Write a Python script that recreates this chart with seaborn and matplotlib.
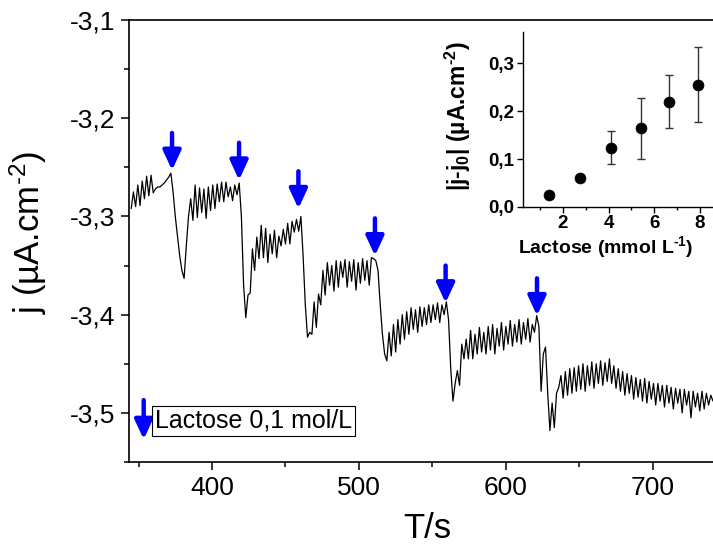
import numpy as np
import pandas as pd
import matplotlib
matplotlib.use("Agg")
import matplotlib.pyplot as plt
import seaborn as sns
from matplotlib.ticker import MultipleLocator, FuncFormatter

# ---------------- data ----------------
T_START = 345.0   # s, first sample
T_STEP = 1.5      # s, sampling interval
current = [
    # before 1st addition
    -3.292, -3.275, -3.290, -3.268, -3.289, -3.264, -3.282, -3.259, -3.279, -3.258,
    -3.276, -3.272, -3.270, -3.270, -3.268, -3.266, -3.263, -3.260, -3.256, -3.275,
    # 1st step
    -3.300, -3.320, -3.340, -3.355, -3.363, -3.330, -3.300, -3.282, -3.304, -3.268,
    -3.301, -3.271, -3.296, -3.272, -3.302, -3.270, -3.294, -3.268, -3.292, -3.267,
    -3.285, -3.265, -3.285, -3.265, -3.280, -3.270, -3.284, -3.268, -3.278, -3.266,
    # 2nd step
    -3.300, -3.370, -3.403, -3.380, -3.378, -3.333, -3.355, -3.321, -3.343, -3.309,
    -3.342, -3.312, -3.347, -3.318, -3.338, -3.314, -3.342, -3.320, -3.330, -3.313,
    -3.328, -3.307, -3.328, -3.305, -3.316, -3.303, -3.315, -3.300,
    # 3rd step
    -3.340, -3.390, -3.423, -3.418, -3.420, -3.387, -3.413, -3.379, -3.390, -3.355,
    -3.380, -3.347, -3.370, -3.350, -3.376, -3.345, -3.372, -3.346, -3.362, -3.344,
    -3.372, -3.346, -3.366, -3.344, -3.375, -3.347, -3.368, -3.343, -3.365, -3.345,
    -3.370, -3.342, -3.343,
    # 4th step
    -3.345, -3.355, -3.390, -3.420, -3.440, -3.447, -3.418, -3.442, -3.410, -3.438,
    -3.405, -3.430, -3.400, -3.425, -3.397, -3.420, -3.393, -3.415, -3.395, -3.418,
    -3.392, -3.412, -3.393, -3.410, -3.390, -3.408, -3.390, -3.405, -3.388, -3.408,
    -3.390, -3.400, -3.387,
    # 5th step
    -3.405, -3.455, -3.488, -3.470, -3.457, -3.472, -3.430, -3.445, -3.425, -3.445,
    -3.416, -3.445, -3.420, -3.440, -3.413, -3.438, -3.418, -3.440, -3.412, -3.436,
    -3.410, -3.440, -3.414, -3.432, -3.408, -3.436, -3.412, -3.430, -3.406, -3.432,
    -3.410, -3.428, -3.405, -3.430, -3.408, -3.425, -3.404, -3.428, -3.410, -3.418,
    -3.401,
    # 6th step
    -3.412, -3.478, -3.440, -3.433, -3.480, -3.518, -3.490, -3.515, -3.480, -3.474,
    -3.462, -3.485, -3.458, -3.482, -3.455, -3.480, -3.454, -3.478, -3.452, -3.476,
    -3.450, -3.478, -3.452, -3.472, -3.448, -3.475, -3.450, -3.470, -3.447, -3.472,
    -3.449, -3.468, -3.445, -3.470, -3.452, -3.475, -3.455, -3.478, -3.458, -3.482,
    -3.460, -3.480, -3.462, -3.486, -3.464, -3.484, -3.466, -3.488, -3.465, -3.490,
    -3.468, -3.486, -3.470, -3.492, -3.470, -3.488, -3.472, -3.494, -3.472, -3.490,
    -3.474, -3.496, -3.475, -3.490, -3.476, -3.500, -3.476, -3.492, -3.478, -3.505,
    -3.478, -3.494, -3.480, -3.498, -3.478, -3.496, -3.480, -3.492, -3.482, -3.488,
]

# lactose additions (arrow positions)
add_time = [372.8, 418.4, 458.8, 510.9, 559.0, 621.2]
add_tip = [-3.253, -3.263, -3.292, -3.340, -3.388, -3.401]
ARROW_LEN = 0.038

# inset: calibration
conc = [1.4, 2.75, 4.1, 5.4, 6.65, 7.9]
dj = [0.026, 0.060, 0.124, 0.164, 0.220, 0.255]
dj_err = [0.004, 0.005, 0.034, 0.064, 0.056, 0.078]

main_xticks = [400, 500, 600, 700]
main_yticks = [-3.5, -3.4, -3.3, -3.2, -3.1]
inset_xticks = [2, 4, 6, 8]
inset_yticks = [0.0, 0.1, 0.2, 0.3]

legend_text = "Lactose 0,1 mol/L"

# ---------------- style ----------------
sns.set_theme(style="ticks")
plt.rcParams["font.family"] = ["Liberation Sans", "DejaVu Sans"]
plt.rcParams["mathtext.fontset"] = "custom"
plt.rcParams["mathtext.rm"] = "Liberation Sans"
plt.rcParams["mathtext.it"] = "Liberation Sans:italic"
plt.rcParams["mathtext.bf"] = "Liberation Sans:bold"
for k in ["text.color", "axes.labelcolor", "xtick.color", "ytick.color",
          "axes.edgecolor"]:
    plt.rcParams[k] = "black"

comma = FuncFormatter(lambda v, p: f"{v:.1f}".replace(".", ","))

df = pd.DataFrame({"t": T_START + T_STEP * np.arange(len(current)), "j": current})
dfi = pd.DataFrame({"c": conc, "dj": dj, "err": dj_err})

fig = plt.figure(figsize=(7.13, 5.45), dpi=100)
ax = fig.add_axes([129 / 713, 83 / 545, 584 / 713, 442 / 545])

sns.lineplot(data=df, x="t", y="j", ax=ax, color="black", lw=0.9,
             estimator=None, sort=False)

ax.set_xlim(343.5, 741)
ax.set_ylim(-3.55, -3.10)
ax.set_xticks(main_xticks)
ax.set_yticks(main_yticks)
ax.xaxis.set_minor_locator(MultipleLocator(50))
ax.yaxis.set_minor_locator(MultipleLocator(0.05))
ax.yaxis.set_major_formatter(comma)
ax.tick_params(which="major", direction="out", length=6, width=1.1, labelsize=19,
               colors="black", pad=4)
ax.tick_params(which="minor", direction="out", length=3.5, width=1.1)
for s in ["left", "bottom", "top"]:
    ax.spines[s].set_linewidth(1.2)
ax.spines["right"].set_visible(False)

ax.set_xlabel("T/s", fontsize=25)
ax.xaxis.set_label_coords((427 - 129) / 584, -0.112)
ax.set_ylabel("j (µA.cm$^{‐2}$)", fontsize=25)
ax.yaxis.set_label_coords(-0.137, 0.52)

arrow_kw = dict(arrowstyle="-|>,head_length=0.65,head_width=0.3", color="blue",
                lw=3.2, mutation_scale=18, shrinkA=0, shrinkB=0)
for t, tip in zip(add_time, add_tip):
    ax.annotate("", xy=(t, tip), xytext=(t, tip + ARROW_LEN), arrowprops=arrow_kw)

# legend-like annotation
ax.annotate("", xy=(353.5, -3.527), xytext=(353.5, -3.487), arrowprops=arrow_kw)
ax.text(361.0, -3.508, legend_text, fontsize=18, va="center", ha="left",
        bbox=dict(boxstyle="square,pad=0.12", fc="white", ec="black", lw=0.8))

# ---------------- inset ----------------
axi = fig.add_axes([523 / 713, 338 / 545, 190 / 713, 175 / 545])
axi.set_facecolor("none")
axi.errorbar(dfi["c"], dfi["dj"], yerr=dfi["err"], fmt="none", ecolor="#333333",
             elinewidth=1.0, capsize=3, capthick=1.0, zorder=1)
sns.scatterplot(data=dfi, x="c", y="dj", ax=axi, color="black", s=60,
                edgecolor="black", zorder=3)
axi.set_xlim(0.25, 8.57)
axi.set_ylim(0, 0.365)
axi.set_xticks(inset_xticks)
axi.set_yticks(inset_yticks)
axi.xaxis.set_minor_locator(MultipleLocator(1))
axi.yaxis.set_major_formatter(comma)
axi.tick_params(which="major", direction="out", length=4, width=1, labelsize=13.5, pad=2)
axi.tick_params(which="minor", direction="out", length=2.5, width=1)
for lab in axi.get_xticklabels() + axi.get_yticklabels():
    lab.set_fontweight("bold")
axi.spines["top"].set_visible(False)
axi.spines["right"].set_visible(False)
for s in ["left", "bottom"]:
    axi.spines[s].set_linewidth(1.0)
axi.set_xlabel(r"Lactose (mmol L$^{\mathbf{‐1}}$)", fontsize=14, fontweight="bold")
axi.xaxis.set_label_coords((606 - 523) / 190, -0.155)
axi.set_ylabel(r"|j-j$_{\mathbf{0}}$| (µA.cm$^{\mathbf{‐2}}$)", fontsize=16.5,
               fontweight="bold")
axi.yaxis.set_label_coords(-0.265, 0.52)

fig.savefig("out.png", dpi=100)
